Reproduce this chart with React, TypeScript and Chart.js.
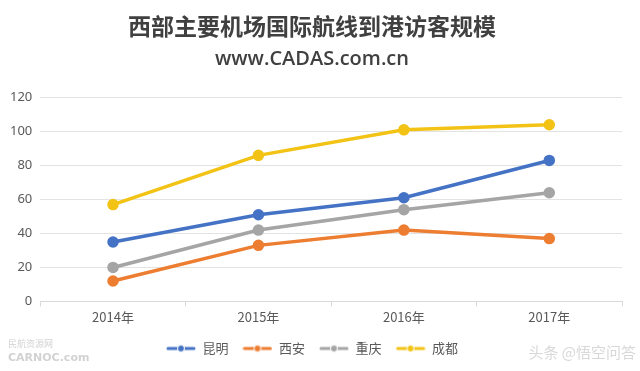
import React, { useEffect, useRef } from "react";
import { Chart, registerables } from "chart.js";

Chart.register(...registerables);

const categories = ["2014年", "2015年", "2016年", "2017年"];
const kunming = [35, 51, 61, 83];
const xian = [12, 33, 42, 37];
const chongqing = [20, 42, 54, 64];
const chengdu = [57, 86, 101, 104];
const seriesNames = ["昆明", "西安", "重庆", "成都"];
const colors = ["#4472C4", "#ED7D31", "#A5A5A5", "#F2C314"];

function legendIcon(color: string) {
  const c = document.createElement("canvas");
  c.width = 30;
  c.height = 10;
  const ctx = c.getContext("2d")!;
  ctx.strokeStyle = color;
  ctx.lineWidth = 3;
  ctx.lineCap = "round";
  ctx.beginPath();
  ctx.moveTo(2, 5);
  ctx.lineTo(28, 5);
  ctx.stroke();
  ctx.fillStyle = color;
  ctx.beginPath();
  ctx.arc(15, 5, 3.5, 0, Math.PI * 2);
  ctx.fill();
  ctx.strokeStyle = "#ffffff";
  ctx.lineWidth = 1;
  ctx.stroke();
  return c;
}

const watermark = {
  id: "watermark",
  afterDraw(chart: any) {
    const ctx = chart.ctx;
    ctx.save();
    ctx.fillStyle = "rgba(180,180,180,0.6)";
    ctx.font = "9px 'Noto Sans CJK SC'";
    ctx.textAlign = "left";
    ctx.textBaseline = "middle";
    ctx.fillText("民航资源网", 8, 344);
    ctx.font = "bold 11px 'DejaVu Sans'";
    ctx.fillText("CARNOC.com", 8, 358);
    ctx.font = "15px 'Noto Sans CJK SC'";
    ctx.textAlign = "right";
    ctx.fillStyle = "rgba(200,200,200,0.7)";
    ctx.fillText("头条 @悟空问答", 636, 352);
    ctx.restore();
  },
};

export default function App() {
  const ref = useRef<HTMLCanvasElement>(null);
  useEffect(() => {
    document.body.style.margin = "0";
    const all = [kunming, xian, chongqing, chengdu];
    const chart = new Chart(ref.current!, {
      type: "line",
      data: {
        labels: categories,
        datasets: all.map((d, i) => ({
          label: seriesNames[i],
          data: d,
          borderColor: colors[i],
          backgroundColor: colors[i],
          borderWidth: 3.5,
          pointRadius: 4,
          pointBorderColor: colors[i],
          pointBackgroundColor: colors[i],
          tension: 0,
        })),
      },
      options: {
        animation: false,
        responsive: false,
        layout: { padding: { left: 2, right: 18, top: 0, bottom: 6 } },
        plugins: {
          title: {
            display: true,
            text: "西部主要机场国际航线到港访客规模",
            color: "#404040",
            font: { family: "'Noto Sans CJK SC'", size: 23, weight: "600" },
            padding: { top: 12, bottom: 6 },
          },
          subtitle: {
            display: true,
            text: "www.CADAS.com.cn",
            color: "#404040",
            font: { family: "'Open Sans'", size: 20, weight: "600" },
            padding: { top: 2, bottom: 26 },
          },
          legend: {
            position: "bottom",
            labels: {
              usePointStyle: true,
              pointStyleWidth: 30,
              color: "#595959",
              font: { family: "'Noto Sans CJK SC'", size: 13 },
              boxWidth: 30,
              boxHeight: 10,
              padding: 14,
              generateLabels: (ch: any) =>
                ch.data.datasets.map((ds: any, i: number) => ({
                  text: ds.label,
                  pointStyle: legendIcon(colors[i]),
                  fillStyle: colors[i],
                  strokeStyle: colors[i],
                  lineWidth: 0,
                  hidden: false,
                  datasetIndex: i,
                  fontColor: "#595959",
                })),
            },
          },
          tooltip: { enabled: false },
        },
        scales: {
          x: {
            offset: true,
            grid: {
              offset: true,
              drawOnChartArea: false,
              drawTicks: true,
              tickLength: 5,
              color: "#D9D9D9",
            },
            border: { color: "#D9D9D9" },
            ticks: {
              color: "#595959",
              font: { family: "'Noto Sans CJK SC'", size: 13 },
              padding: 3,
            },
          },
          y: {
            min: 0,
            max: 120,
            ticks: {
              stepSize: 20,
              color: "#595959",
              font: { family: "'Noto Sans'", size: 13 },
              padding: 8,
            },
            grid: { color: "#E3E3E3", drawTicks: false },
            border: { display: false },
          },
        },
      },
      plugins: [watermark],
    });
    return () => chart.destroy();
  }, []);
  return <canvas ref={ref} width={640} height={371} style={{ display: "block" }} />;
}
